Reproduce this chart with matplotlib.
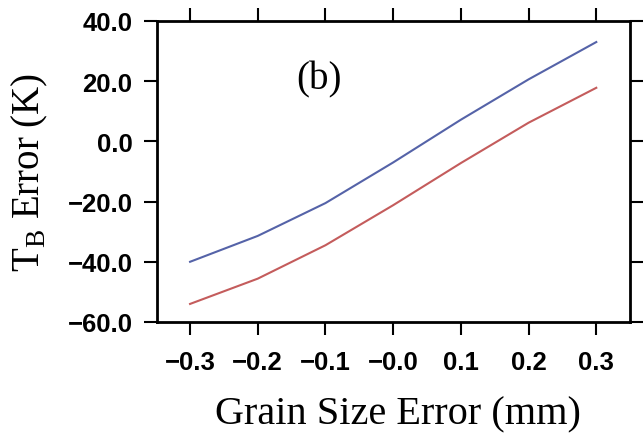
import matplotlib
matplotlib.use("Agg")
from matplotlib import pyplot as plt

# grain size error (mm) and brightness temperature error (K)
grain_err = [-0.3, -0.2, -0.1, 0.0, 0.1, 0.2, 0.3]
tb_blue = [-40.0, -31.4, -20.5, -7.0, 7.2, 20.6, 33.0]
tb_red = [-54.0, -45.6, -34.5, -21.2, -7.2, 6.2, 17.8]

xtick_vals = [-0.3, -0.2, -0.1, 0.0, 0.1, 0.2, 0.3]
xtick_labels = ["\u22120.3", "\u22120.2", "\u22120.1", "\u22120.0", "0.1", "0.2", "0.3"]
ytick_vals = [-60, -40, -20, 0, 20, 40]
ytick_labels = ["\u221260.0", "\u221240.0", "\u221220.0", "0.0", "20.0", "40.0"]

fig = plt.figure(figsize=(6.43, 4.35), dpi=100)
ax = fig.add_axes([0.244, 0.2575, 0.736, 0.692])

ax.plot(grain_err, tb_blue, color="#5563a8", lw=1.5)
ax.plot(grain_err, tb_red, color="#c45c5c", lw=1.5)

ax.set_xlim(-0.349, 0.35)
ax.set_ylim(-60, 40)

ax.set_xticks(xtick_vals)
ax.set_xticklabels(xtick_labels, family="Liberation Sans", weight="bold", fontsize=18.5)
ax.set_yticks(ytick_vals)
ax.set_yticklabels(ytick_labels, family="Liberation Sans", weight="bold", fontsize=18.5)

ax.tick_params(axis="both", direction="out", length=9.5, width=1.5,
               top=True, right=True, colors="black")
ax.tick_params(axis="x", pad=11)
ax.tick_params(axis="y", pad=8)
for s in ax.spines.values():
    s.set_linewidth(2.0)

ax.set_xlabel("Grain Size Error (mm)", family="Liberation Serif", fontsize=29)
ax.set_ylabel("T$_\\mathregular{B}$ Error (K)", family="Liberation Serif", fontsize=28)
ax.xaxis.set_label_coords(0.51, -0.245)
ax.yaxis.set_label_coords(-0.226, 0.5)

ax.text(0.342, 0.807, "(b)", transform=ax.transAxes, family="Liberation Serif",
        fontsize=28, ha="center", va="center")

fig.savefig("out.png", dpi=100)
